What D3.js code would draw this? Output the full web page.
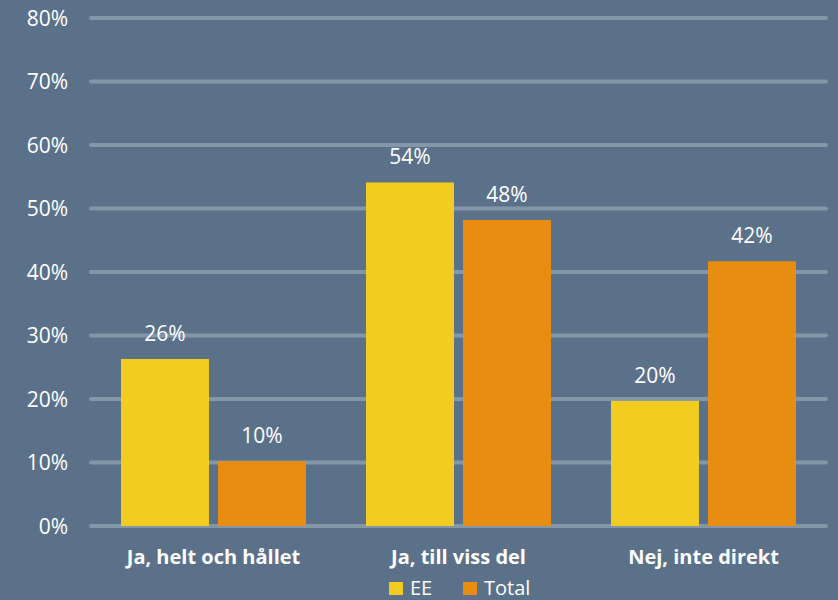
<!DOCTYPE html>
<html><head><meta charset="utf-8">
<script src="https://cdn.jsdelivr.net/npm/d3@7/dist/d3.min.js"></script>
<style>html,body{margin:0;padding:0;background:#5b7189;}svg{display:block;}</style>
</head><body>
<script>
const categories = ["Ja, helt och hållet", "Ja, till viss del", "Nej, inte direkt"];
const seriesNames = ["EE", "Total"];
const eeValues = [0.263, 0.541, 0.197];
const totalValues = [0.102, 0.482, 0.417];
const valueLabels = {EE: ["26%", "54%", "20%"], Total: ["10%", "48%", "42%"]};
const yTicks = [0, 0.1, 0.2, 0.3, 0.4, 0.5, 0.6, 0.7, 0.8];
const colors = {EE: "#f2cc21", Total: "#e98c12"};

const W = 838, H = 600;
const font = "'Open Sans', sans-serif";
const svg = d3.select("body").append("svg").attr("width", W).attr("height", H);
svg.append("rect").attr("width", W).attr("height", H).attr("fill", "#5b7189");

const x0 = d3.scaleBand().domain(categories).range([91, 826]).padding(0);
const x1 = d3.scaleBand().domain(seriesNames).range([0, 185]).paddingInner(0.0928);
const y = d3.scaleLinear().domain([0, 0.8]).range([526, 18]);

// gridlines
svg.append("g").selectAll("line").data(yTicks).join("line")
  .attr("x1", 91).attr("x2", 826)
  .attr("y1", d => y(d)).attr("y2", d => y(d))
  .attr("stroke", "#8397a9").attr("stroke-width", 4).attr("stroke-linecap", "round");

// y tick labels
const yAxis = d3.axisLeft(y).tickValues(yTicks).tickFormat(d3.format(".0%")).tickSize(0).tickPadding(0);
const ya = svg.append("g").attr("transform", "translate(68,0)").call(yAxis);
ya.select(".domain").remove();
ya.selectAll("text").attr("fill", "#ffffff").attr("font-family", font).attr("font-size", 21).attr("dy", "0.35em");

const rows = categories.map((c, i) => ({cat: c, vals: [
  {s: "EE", v: eeValues[i], lab: valueLabels.EE[i]},
  {s: "Total", v: totalValues[i], lab: valueLabels.Total[i]}
]}));

const groups = svg.append("g").selectAll("g").data(rows).join("g")
  .attr("transform", d => `translate(${x0(d.cat) + (x0.bandwidth() - 185) / 2},0)`);

groups.selectAll("rect").data(d => d.vals).join("rect")
  .attr("x", d => x1(d.s)).attr("width", x1.bandwidth())
  .attr("y", d => y(d.v)).attr("height", d => y(0) - y(d.v))
  .attr("fill", d => colors[d.s]);

groups.selectAll("text").data(d => d.vals).join("text")
  .attr("x", d => x1(d.s) + x1.bandwidth() / 2)
  .attr("y", d => y(d.v) - 18)
  .attr("text-anchor", "middle").attr("fill", "#ffffff")
  .attr("font-family", font).attr("font-size", 21)
  .text(d => d.lab);

// category labels
const xAxis = d3.axisBottom(x0).tickSize(0).tickPadding(0);
const xa = svg.append("g").attr("transform", "translate(0,564)").call(xAxis);
xa.select(".domain").remove();
xa.selectAll("text").attr("dy", 0).attr("fill", "#ffffff").attr("font-family", font)
  .attr("font-size", 20).attr("font-weight", "bold");

// legend
const legendX = [389, 463];
const leg = svg.append("g").selectAll("g").data(seriesNames).join("g")
  .attr("transform", (d, i) => `translate(${legendX[i]},582)`);
leg.append("rect").attr("width", 14).attr("height", 13).attr("fill", d => colors[d]);
leg.append("text").attr("x", 21).attr("y", 13).attr("fill", "#ffffff")
  .attr("font-family", font).attr("font-size", 20).text(d => d);
</script>
</body></html>
